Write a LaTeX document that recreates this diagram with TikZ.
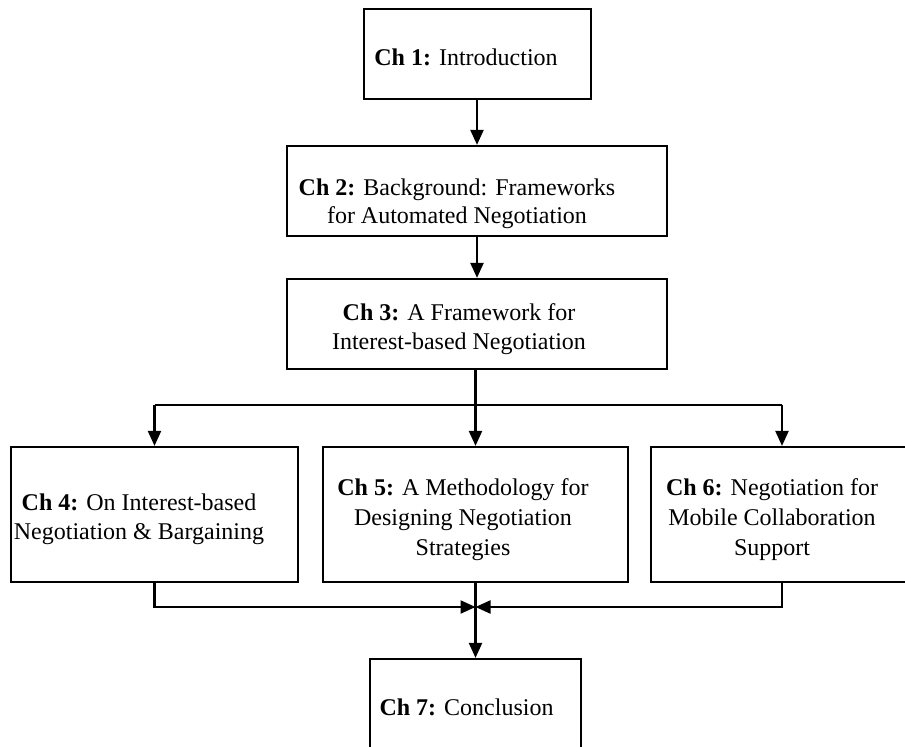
\documentclass[tikz,border=0pt]{standalone}
\usepackage{fontspec}
\setmainfont{Liberation Serif}
\usetikzlibrary{arrows.meta}
\begin{document}
\begin{tikzpicture}[x=1pt,y=-1pt,
  box/.style={draw, line width=2.2pt, inner sep=0pt},
  lbl/.style={font=\fontsize{24}{29}\selectfont, align=center, anchor=base, inner sep=0pt},
  ln/.style={line width=2.2pt},
  arr/.style={line width=2.2pt, -{Triangle[length=15pt,width=13pt]}}]
\useasboundingbox (0,0) rectangle (905,747);
% boxes
\node[box, minimum width=227pt, minimum height=90pt] (c1) at (477.5,54) {};
\node[box, minimum width=380pt, minimum height=90pt] (c2) at (477,191) {};
\node[box, minimum width=380pt, minimum height=90pt] (c3) at (477,324) {};
\node[box, minimum width=287pt, minimum height=135pt] (c4) at (154.5,514.5) {};
\node[box, minimum width=305pt, minimum height=135pt] (c5) at (475.5,514.5) {};
\node[box, minimum width=262pt, minimum height=135pt] (c6) at (782,514.5) {};
\node[box, minimum width=211pt, minimum height=91pt] (c7) at (475.5,704.5) {};
% texts (base anchor = baseline of the last line)
\node[lbl] (t1) at (466,65) {\textbf{Ch 1:} Introduction};
\node[lbl, font=\fontsize{24}{28}\selectfont] (t2) at (457,223) {\textbf{Ch 2:} Background: Frameworks\\for Automated Negotiation};
\node[lbl] (t3) at (459,349) {\textbf{Ch 3:} A Framework for\\Interest-based Negotiation};
\node[lbl] (t4) at (139,539) {\textbf{Ch 4:} On Interest-based\\Negotiation \& Bargaining};
\node[lbl, font=\fontsize{24}{30}\selectfont] (t5) at (463,555) {\textbf{Ch 5:} A Methodology for\\Designing Negotiation\\Strategies};
\node[lbl, font=\fontsize{24}{30}\selectfont] (t6) at (772,555) {\textbf{Ch 6:} Negotiation for\\Mobile Collaboration\\Support};
\node[lbl] (t7) at (466.5,715) {\textbf{Ch 7:} Conclusion};
% connectors
\coordinate (f) at (477,405);
\coordinate (m) at (475.5,607);
\draw[arr] (c2.north |- c1.south) -- (c2.north);
\draw[arr] (c3.north |- c2.south) -- (c3.north);
\draw[arr] (c5.north |- c3.south) -- (c5.north);
\draw[ln] (c4.north |- f) -- (c6.north |- f);
\draw[arr] (c4.north |- f) -- (c4.north);
\draw[arr] (c6.north |- f) -- (c6.north);
\draw[arr] (c4.south) -- (c4.south |- m) -- (m);
\draw[arr] (c6.south) -- (c6.south |- m) -- (m);
\draw[arr] (c5.south) -- (c7.north);
\end{tikzpicture}
\end{document}
